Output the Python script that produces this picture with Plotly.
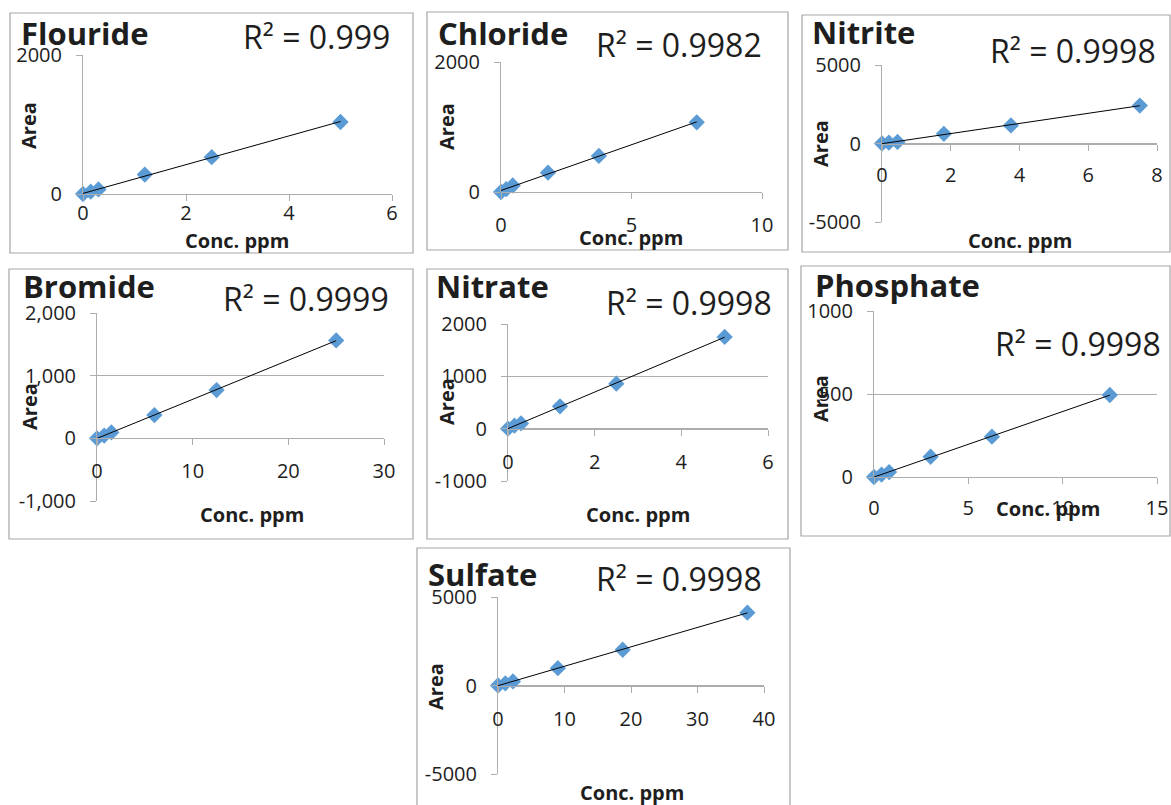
import numpy as np
import plotly.graph_objects as go

# ---------------- data ----------------
flouride_conc = [0, 0.15, 0.3, 1.2, 2.5, 5]
flouride_area = [0, 33, 65, 280, 530, 1036]
chloride_conc = [0, 0.2, 0.45, 1.8, 3.75, 7.5]
chloride_area = [0, 45, 100, 297, 554, 1072]
nitrite_conc = [0, 0.2, 0.45, 1.8, 3.75, 7.5]
nitrite_area = [0, 55, 100, 620, 1150, 2420]
bromide_conc = [0, 0.75, 1.5, 6, 12.5, 25]
bromide_area = [0, 45, 95, 372, 770, 1563]
nitrate_conc = [0, 0.15, 0.3, 1.2, 2.5, 5]
nitrate_area = [0, 60, 100, 427, 860, 1753]
phosphate_conc = [0, 0.4, 0.8, 3, 6.25, 12.5]
phosphate_area = [0, 15, 30, 122, 243, 494]
sulfate_conc = [0, 1.1, 2.25, 9, 18.75, 37.5]
sulfate_area = [0, 120, 230, 980, 2020, 4115]

names = ["Flouride", "Chloride", "Nitrite", "Bromide", "Nitrate", "Phosphate", "Sulfate"]
r2_labels = ["R² = 0.999", "R² = 0.9982", "R² = 0.9998", "R² = 0.9999",
             "R² = 0.9998", "R² = 0.9998", "R² = 0.9998"]

flouride_xticks = [0, 2, 4, 6]
chloride_xticks = [0, 5, 10]
nitrite_xticks = [0, 2, 4, 6, 8]
bromide_xticks = [0, 10, 20, 30]
nitrate_xticks = [0, 2, 4, 6]
phosphate_xticks = [0, 5, 10, 15]
sulfate_xticks = [0, 10, 20, 30, 40]

flouride_yticks = [0, 2000]
chloride_yticks = [0, 2000]
nitrite_yticks = [-5000, 0, 5000]
bromide_yticks = [-1000, 0, 1000, 2000]
nitrate_yticks = [-1000, 0, 1000, 2000]
phosphate_yticks = [0, 500, 1000]
sulfate_yticks = [-5000, 0, 5000]

flouride_ylabels = ["0", "2000"]
chloride_ylabels = ["0", "2000"]
nitrite_ylabels = ["-5000", "0", "5000"]
bromide_ylabels = ["-1,000", "0", "1,000", "2,000"]
nitrate_ylabels = ["-1000", "0", "1000", "2000"]
phosphate_ylabels = ["0", "500", "1000"]
sulfate_ylabels = ["-5000", "0", "5000"]

x_title = "Conc. ppm"
y_title = "Area"

series = [
    (flouride_conc, flouride_area, flouride_xticks, flouride_yticks, flouride_ylabels),
    (chloride_conc, chloride_area, chloride_xticks, chloride_yticks, chloride_ylabels),
    (nitrite_conc, nitrite_area, nitrite_xticks, nitrite_yticks, nitrite_ylabels),
    (bromide_conc, bromide_area, bromide_xticks, bromide_yticks, bromide_ylabels),
    (nitrate_conc, nitrate_area, nitrate_xticks, nitrate_yticks, nitrate_ylabels),
    (phosphate_conc, phosphate_area, phosphate_xticks, phosphate_yticks, phosphate_ylabels),
    (sulfate_conc, sulfate_area, sulfate_xticks, sulfate_yticks, sulfate_ylabels),
]

# ---------------- layout geometry (pixels) ----------------
W, H = 1171, 805


def px(x):
    return x / W


def py(y):
    return 1 - y / H


# box, x-plot px, y-plot px (top,bottom), title pos, r2 right pos, Area pos, Conc pos, x label standoff
geom = [
    dict(box=(10, 13, 413, 253), xp=(83, 392), yp=(55, 194), title=(19, 33), r2=(392, 36),
         area=(29, 126), conc=(237, 241), xs=-5),
    dict(box=(427, 12, 788, 250), xp=(501, 762), yp=(62, 192), title=(436, 33), r2=(764, 45),
         area=(446, 127), conc=(631, 237), xs=9),
    dict(box=(802, 15, 1170, 252), xp=(882, 1157), yp=(65, 222), title=(810, 32), r2=(1158, 50),
         area=(820, 144), conc=(1020, 241), xs=7),
    dict(box=(9, 269, 413, 539), xp=(97, 384), yp=(313, 501), title=(21, 286), r2=(391, 298),
         area=(29, 407), conc=(252, 514), xs=9),
    dict(box=(427, 269, 788, 539), xp=(508, 768), yp=(324, 481), title=(434, 286), r2=(774, 302),
         area=(446, 402), conc=(638, 514), xs=9),
    dict(box=(801, 266, 1170, 536), xp=(874, 1157), yp=(311, 477), title=(813, 285), r2=(1163, 343),
         area=(820, 399), conc=(1048, 509), xs=7),
    dict(box=(417, 548, 790, 812), xp=(498, 764), yp=(597, 774), title=(426, 574), r2=(764, 578),
         area=(435, 687), conc=(632, 792), xs=9),
]

FONT = "Open Sans"
GRAY = "#ADADAD"
BOX = "#A6A6A6"
BLUE = "#5B9BD5"
TXT = "#1E1E1E"

fig = go.Figure()
layout = dict(width=W, height=H, margin=dict(l=0, r=0, t=0, b=0, pad=0, autoexpand=False),
              autosize=False,
              paper_bgcolor="white", plot_bgcolor="rgba(0,0,0,0)", showlegend=False,
              font=dict(family=FONT, color=TXT))
annotations = []
shapes = []

for i, ((xs_, ys_, xt, yt, ytl), g) in enumerate(zip(series, geom), start=1):
    xa = "x" if i == 1 else f"x{i}"
    ya = "y" if i == 1 else f"y{i}"
    xkey = "xaxis" if i == 1 else f"xaxis{i}"
    ykey = "yaxis" if i == 1 else f"yaxis{i}"

    ymin, ymax = yt[0], yt[-1]
    ytop, ybot = g["yp"]
    zero_px = ytop + (ymax - 0) / (ymax - ymin) * (ybot - ytop)

    layout[xkey] = dict(
        domain=[px(g["xp"][0]), px(g["xp"][1])], range=[xt[0], xt[-1]],
        anchor="free", position=py(zero_px), automargin=False,
        showline=True, linecolor=GRAY, linewidth=1,
        ticks="outside", ticklen=6, tickcolor=GRAY, tickwidth=1,
        tickvals=xt, ticktext=[str(v) for v in xt],
        showgrid=False, zeroline=False, fixedrange=True,
        tickfont=dict(family=FONT, size=20, color=TXT),
        ticklabelstandoff=g["xs"],
    )
    layout[ykey] = dict(
        domain=[py(ybot), py(ytop)], range=[ymin, ymax], anchor=xa, automargin=False,
        showline=True, linecolor=GRAY, linewidth=1,
        ticks="outside", ticklen=6, tickcolor=GRAY, tickwidth=1,
        tickvals=yt, ticktext=ytl,
        showgrid=True, gridcolor=GRAY, gridwidth=1, zeroline=False, fixedrange=True,
        tickfont=dict(family=FONT, size=20, color=TXT),
        ticklabelstandoff=10,
    )

    fig.add_trace(go.Scatter(
        x=xs_, y=ys_, mode="markers", xaxis=xa, yaxis=ya, cliponaxis=False,
        marker=dict(symbol="diamond", size=12.5, color=BLUE, line=dict(width=0)),
    ))
    slope, intercept = np.polyfit(xs_, ys_, 1)
    xl = [min(xs_), max(xs_)]
    fig.add_trace(go.Scatter(
        x=xl, y=[slope * v + intercept for v in xl], mode="lines", xaxis=xa, yaxis=ya,
        cliponaxis=False, line=dict(color="black", width=1),
    ))

    bx0, by0, bx1, by1 = g["box"]
    shapes.append(dict(type="rect", xref="paper", yref="paper",
                       x0=px(bx0), x1=px(bx1), y0=py(by1), y1=py(by0),
                       line=dict(color=BOX, width=1.2), fillcolor="rgba(0,0,0,0)", layer="below"))

    annotations.append(dict(text=f"<b>{names[i-1]}</b>", xref="paper", yref="paper",
                            x=px(g["title"][0]), y=py(g["title"][1]), xanchor="left", yanchor="middle",
                            showarrow=False, font=dict(family=FONT, size=31, color=TXT)))
    annotations.append(dict(text=r2_labels[i-1], xref="paper", yref="paper",
                            x=px(g["r2"][0]), y=py(g["r2"][1]), xanchor="right", yanchor="middle",
                            showarrow=False, font=dict(family=FONT, size=32, color=TXT)))
    annotations.append(dict(text=f"<b>{y_title}</b>", xref="paper", yref="paper", textangle=-90,
                            x=px(g["area"][0]), y=py(g["area"][1]), xanchor="center", yanchor="middle",
                            showarrow=False, font=dict(family=FONT, size=20, color=TXT)))
    annotations.append(dict(text=f"<b>{x_title}</b>", xref="paper", yref="paper",
                            x=px(g["conc"][0]), y=py(g["conc"][1]), xanchor="center", yanchor="middle",
                            showarrow=False, font=dict(family=FONT, size=20, color=TXT)))

layout["annotations"] = annotations
layout["shapes"] = shapes
fig.update_layout(**layout)
fig.write_html(
    "out.html",
    config={"displayModeBar": False},
    post_script="document.body.style.margin='0';document.body.style.padding='0';"
                "document.documentElement.style.overflow='hidden';",
)
